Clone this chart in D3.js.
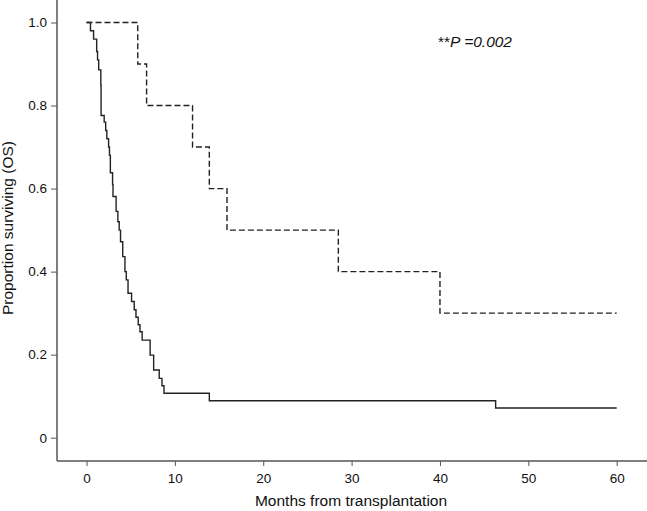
<!DOCTYPE html>
<html>
<head>
<meta charset="utf-8">
<script src="https://cdn.jsdelivr.net/npm/d3@7"></script>
<style>
  html, body { margin: 0; padding: 0; background: #fff; }
  svg { display: block; font-family: "Liberation Sans", Arial, sans-serif; }
</style>
</head>
<body>
<svg id="chart" width="647" height="511"></svg>
<script>
// ---- data ----
const xTicks = [0, 10, 20, 30, 40, 50, 60];
const yTicks = [0, 0.2, 0.4, 0.6, 0.8, 1.0];
const yTickLabels = ["0", "0.2", "0.4", "0.6", "0.8", "1.0"];

// Solid group: step times (months) and survival after each step
const solidTimes = [0, 0.45, 0.8, 1.15, 1.25, 1.38, 1.62, 1.65, 2.0, 2.17, 2.3, 2.5, 2.6, 2.7, 2.95, 3.0, 3.35, 3.55, 3.7, 3.85, 4.1, 4.35, 4.5, 4.7, 5.1, 5.4, 5.6, 5.85, 6.05, 6.3, 7.2, 7.6, 8.23, 8.54, 8.77, 13.9, 46.3, 60];
const solidSurv  = [1.0, 0.98, 0.96, 0.93, 0.91, 0.886, 0.85, 0.776, 0.76, 0.74, 0.72, 0.70, 0.68, 0.638, 0.61, 0.581, 0.545, 0.52, 0.50, 0.472, 0.436, 0.40, 0.38, 0.348, 0.328, 0.308, 0.29, 0.272, 0.255, 0.235, 0.199, 0.163, 0.143, 0.125, 0.107, 0.089, 0.0715, 0.0715];

// Dashed group
const dashedTimes = [0, 5.8, 6.8, 12.0, 13.9, 15.9, 28.5, 40.0, 60];
const dashedSurv  = [1.0, 0.9, 0.8, 0.7, 0.6, 0.5, 0.4, 0.3, 0.3];

const pLabelStars = "**";
const pLabelText = "P =0.002";
const xTitle = "Months from transplantation";
const yTitle = "Proportion surviving (OS)";

// ---- layout ----
const svg = d3.select("#chart");
const x = d3.scaleLinear().domain([0, 60]).range([86.5, 616.7]);
const y = d3.scaleLinear().domain([0, 1]).range([437.7, 22.5]);
const axisLeftX = 57, axisBottomY = 461;
const axisColor = "#555";
const font = "'Liberation Sans', Arial, sans-serif";

// axis lines
svg.append("line").attr("x1", axisLeftX).attr("x2", axisLeftX)
  .attr("y1", 0).attr("y2", axisBottomY)
  .attr("stroke", axisColor).attr("stroke-width", 1.5);
svg.append("line").attr("x1", axisLeftX).attr("x2", 647)
  .attr("y1", axisBottomY).attr("y2", axisBottomY)
  .attr("stroke", axisColor).attr("stroke-width", 1.5);

// y axis ticks
const yAxis = d3.axisLeft(y).tickValues(yTicks)
  .tickFormat((d, i) => yTickLabels[i]).tickSize(6).tickPadding(4);
const gy = svg.append("g").attr("transform", `translate(${axisLeftX},0)`).call(yAxis);
gy.select(".domain").remove();
gy.selectAll(".tick line").attr("stroke", axisColor).attr("stroke-width", 1);
gy.selectAll(".tick text").attr("font-size", 13.5).attr("fill", "#111")
  .attr("font-family", font);

// x axis ticks
const xAxis = d3.axisBottom(x).tickValues(xTicks).tickSize(5).tickPadding(7);
const gx = svg.append("g").attr("transform", `translate(0,${axisBottomY})`).call(xAxis);
gx.select(".domain").remove();
gx.selectAll(".tick line").attr("stroke", axisColor).attr("stroke-width", 1);
gx.selectAll(".tick text").attr("font-size", 13.5).attr("fill", "#111")
  .attr("font-family", font);

// curves
const line = d3.line().x(d => x(d[0])).y(d => y(d[1])).curve(d3.curveStepAfter);
const solidData = solidTimes.map((t, i) => [t, solidSurv[i]]);
const dashedData = dashedTimes.map((t, i) => [t, dashedSurv[i]]);

svg.append("path").datum(solidData).attr("d", line)
  .attr("fill", "none").attr("stroke", "#222").attr("stroke-width", 1.4);
svg.append("path").datum(dashedData).attr("d", line)
  .attr("fill", "none").attr("stroke", "#222").attr("stroke-width", 1.4)
  .attr("stroke-dasharray", "6,3");

// p-value label
const pt = svg.append("text").attr("x", 438).attr("y", 47)
  .attr("font-size", 15.5).attr("fill", "#111");
pt.append("tspan").text(pLabelStars);
pt.append("tspan").attr("font-style", "italic").text(pLabelText);

// axis titles
svg.append("text").attr("x", 351).attr("y", 506)
  .attr("text-anchor", "middle").attr("font-size", 15.5).attr("fill", "#111")
  .text(xTitle);
svg.append("text").attr("transform", "translate(13,228) rotate(-90)")
  .attr("text-anchor", "middle").attr("font-size", 15.5).attr("fill", "#111")
  .text(yTitle);
</script>
</body>
</html>
